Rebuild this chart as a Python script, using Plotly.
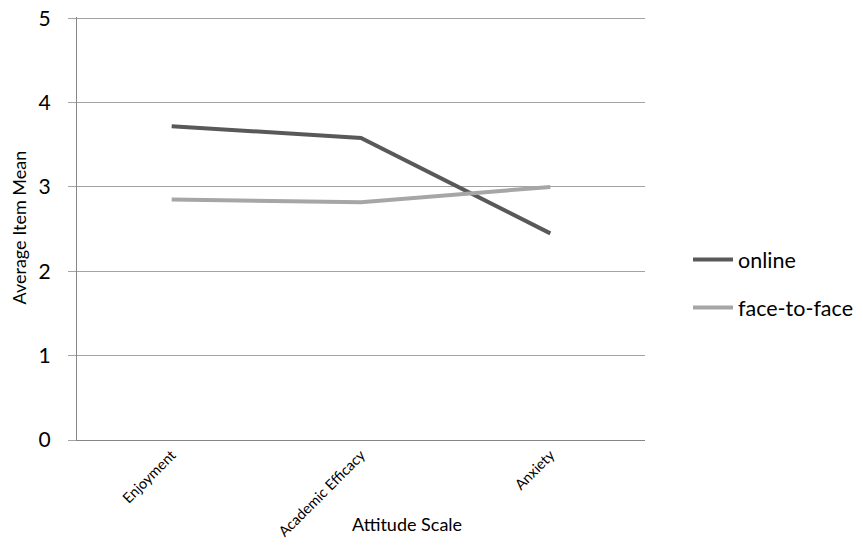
import plotly.graph_objects as go

categories = ["Enjoyment", "Academic Efficacy", "Anxiety"]
online = [3.72, 3.58, 2.45]
face_to_face = [2.85, 2.82, 3.0]
y_ticks = [0, 1, 2, 3, 4, 5]

FONT = "Lato, Open Sans, sans-serif"
AXIS = "#868686"
GRID = "#a3a3a3"

fig = go.Figure()
fig.add_trace(go.Scatter(x=categories, y=online, mode="lines", name="online",
                         line=dict(color="#595959", width=4), legendgroup="a"))
fig.add_trace(go.Scatter(x=categories, y=face_to_face, mode="lines", name="face-to-face",
                         line=dict(color="#a6a6a6", width=4), legendgroup="b"))

fig.update_layout(
    width=863, height=552,
    margin=dict(l=69, r=226, t=9, b=120, autoexpand=False),
    paper_bgcolor="white", plot_bgcolor="white",
    font=dict(family=FONT, color="#000000"),
    showlegend=True,
    legend=dict(x=1.0757, y=0.370, xanchor="left", yanchor="middle",
                font=dict(size=21.5, family=FONT), tracegroupgap=17,
                itemwidth=40, bgcolor="rgba(0,0,0,0)"),
    xaxis=dict(type="category", showgrid=False, showline=True, linecolor=AXIS,
               linewidth=1, ticks="", tickangle=-45, tickfont=dict(size=14.5, family=FONT),
               range=[-0.5, 2.5], automargin=False),
    yaxis=dict(range=[0, 5.015], tickvals=y_ticks, showgrid=True, gridcolor=GRID,
               gridwidth=1, showline=True, linecolor=AXIS, linewidth=1,
               ticks="outside", ticklen=8, tickcolor=GRID, ticklabelstandoff=13,
               ticklabeloverflow="allow",
               tickfont=dict(size=21, family=FONT), zeroline=False, automargin=False),
    annotations=[
        dict(text="Attitude Scale", xref="paper", yref="paper",
             x=(407 - 77) / 568, y=-(524 - 440) / 422,
             xanchor="center", yanchor="middle", showarrow=False,
             font=dict(size=18, family=FONT)),
        dict(text="Average Item Mean", xref="paper", yref="paper",
             x=(19 - 77) / 568, y=(440 - 228) / 422, textangle=-90,
             xanchor="center", yanchor="middle", showarrow=False,
             font=dict(size=18, family=FONT)),
    ],
)

fig.write_html("out.html")
